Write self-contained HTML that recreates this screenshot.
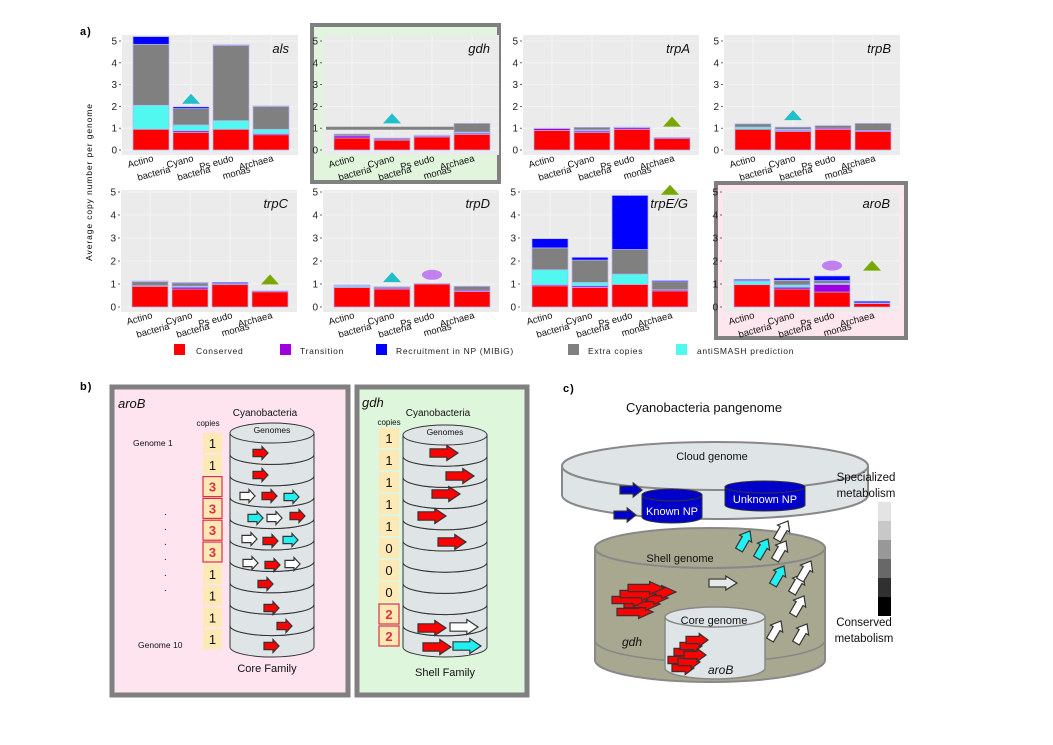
<!DOCTYPE html>
<html><head><meta charset="utf-8">
<style>
html,body{margin:0;padding:0;background:#fff;}
svg{display:block;font-family:"Liberation Sans",sans-serif;}
</style></head>
<body>
<svg id="fig" width="1053" height="745" viewBox="0 0 1053 745" xmlns="http://www.w3.org/2000/svg">
  <rect x="0" y="0" width="1053" height="745" fill="#fff"/>
  <text x="80" y="35" font-size="11" font-weight="bold" letter-spacing="1">a)</text>
  <text x="80" y="390" font-size="11" font-weight="bold" letter-spacing="1">b)</text>
  <text x="563" y="392" font-size="11" font-weight="bold" letter-spacing="1">c)</text>
  <rect x="312" y="25" width="187" height="157" fill="#e0f5dc" stroke="#808080" stroke-width="4"/>
  <rect x="716" y="183" width="190" height="155" fill="#fde6ee" stroke="#808080" stroke-width="4"/>
  <text transform="translate(92,182) rotate(-90)" text-anchor="middle" font-size="8.5" letter-spacing="0.9">Average copy number per genome</text>
  <g id="charts"></g>
  <g id="legend"></g>
  <g id="panelb"></g>
  <g id="panelc"></g>
</svg>
<script>
const NS="http://www.w3.org/2000/svg";
const categories=["Actino|bacteria","Cyano|bacteria","Ps eudo|monas","Archaea"];
const genes=["als","gdh","trpA","trpB","trpC","trpD","trpE/G","aroB"];
const conserved=[[0.95,0.8,0.95,0.7],[0.55,0.45,0.6,0.72],[0.9,0.8,0.95,0.52],[0.95,0.85,0.95,0.85],[0.9,0.78,0.97,0.66],[0.85,0.78,1.0,0.68],[0.92,0.85,0.98,0.7],[0.97,0.78,0.65,0.15]];
const transition=[[0,0.08,0,0.05],[0.1,0.05,0.05,0.05],[0.08,0.07,0.07,0.05],[0,0.05,0.05,0.05],[0,0.08,0,0.04],[0.03,0.05,0,0.05],[0.05,0.07,0,0.05],[0,0.08,0.33,0.03]];
const antismash=[[1.1,0.27,0.4,0.2],[0,0,0,0.05],[0,0.05,0,0],[0.1,0.05,0,0],[0.03,0.05,0,0],[0.05,0,0,0],[0.65,0.15,0.45,0],[0.15,0.1,0.05,0]];
const extra=[[2.8,0.75,3.45,1.05],[0.08,0.05,0.03,0.4],[0.02,0.12,0.03,0],[0.15,0.1,0.12,0.32],[0.17,0.14,0.05,0],[0.03,0.05,0,0.17],[0.95,0.97,1.07,0.35],[0.03,0.2,0.12,0]];
const recruitment=[[0.35,0.08,0.03,0.02],[0,0,0,0],[0,0,0,0],[0,0,0,0],[0.03,0.02,0.05,0],[0,0,0.02,0],[0.4,0.12,2.35,0.05],[0.05,0.1,0.2,0.07]];
const markerCat=[1,1,3,1,3,1,3,3];
const markerVal=[2.35,1.45,1.3,1.6,1.2,1.3,5.1,1.8];
const markerType=["cyan","cyan","green","cyan","green","cyan","green","green"];
const extraMarkerGene=[5,7];
const extraMarkerCat=[2,2];
const extraMarkerVal=[1.4,1.8];
const yTicks=[0,1,2,3,4,5];
const seriesNames=["Conserved","Transition","Recruitment in NP (MIBiG)","Extra copies","antiSMASH prediction"];
const seriesColors={cons:"#ff0000",trans:"#a000e0",anti:"#50f8f0",extra:"#808080",rec:"#0000ff"};

function el(tag,attrs,parent){const e=document.createElementNS(NS,tag);for(const k in attrs)e.setAttribute(k,attrs[k]);if(parent)parent.appendChild(e);return e;}

const charts=document.getElementById('charts');
const layout=[{x:133,y0:150,u:21.8,top:35,bot:155},{x:334,y0:150,u:21.8,top:35,bot:155},{x:534,y0:150,u:21.8,top:35,bot:155},{x:735,y0:150,u:21.8,top:35,bot:155},
{x:132,y0:307,u:23,top:190,bot:312},{x:334,y0:307,u:23,top:190,bot:312},{x:532,y0:307,u:23,top:190,bot:312},{x:734,y0:307,u:23,top:190,bot:312}];
const step=40,bw=36;
genes.forEach((g,gi)=>{
  const L=layout[gi];
  const yS=v=>L.y0-v*L.u;
  const xS=i=>L.x+i*step;
  const grp=el('g',{},charts);
  
  
  const bg=el('rect',{x:L.x-11,y:L.top,width:176,height:L.bot-L.top,fill:"#ebebeb"},grp);
  
  
  yTicks.forEach(t=>{
    el('line',{x1:L.x-11,x2:L.x+165,y1:yS(t),y2:yS(t),stroke:"#f6f6f6","stroke-width":0.8},grp);
    const tl=el('text',{x:L.x-16,y:yS(t)+3.5,"font-size":10,"text-anchor":"end",fill:"#222"},grp);
    tl.textContent=t;
    
    
    el('line',{x1:L.x-14,x2:L.x-12,y1:yS(t),y2:yS(t),stroke:"#444","stroke-width":0.8},grp);
  });
  categories.forEach((c,ci)=>{
    el('line',{x1:xS(ci)+bw/2,x2:xS(ci)+bw/2,y1:L.top,y2:L.bot,stroke:"#f6f6f6","stroke-width":0.8},grp);
  });
  if(g==="gdh"){
    const ln=el('line',{x1:L.x-8,x2:xS(3),y1:yS(1),y2:yS(1),stroke:"#808080","stroke-width":3},grp);
    
    
  }
  categories.forEach((c,ci)=>{
    const segs=[[conserved[gi][ci],seriesColors.cons,'conserved'],[transition[gi][ci],seriesColors.trans,'transition'],[antismash[gi][ci],seriesColors.anti,'antismash'],[extra[gi][ci],seriesColors.extra,'extra-copies'],[recruitment[gi][ci],seriesColors.rec,'recruitment']];
    let acc=0;
    segs.forEach(s=>{
      if(s[0]<=0)return;
      const r=el('rect',{x:xS(ci),y:yS(acc+s[0]),width:bw,height:s[0]*L.u,fill:s[1],stroke:"#b4b4f4","stroke-width":0.7},grp);
      
      
      acc+=s[0];
    });
    const parts=c.split('|');
    const cx=xS(ci)+bw/2;
    const t1=el('text',{transform:`translate(${cx+3},${L.y0+11}) rotate(-15)`,"font-size":9.5,"text-anchor":"end",fill:"#111"},grp);
    t1.textContent=parts[0];
    
    
    if(parts[1]){
      const t2=el('text',{transform:`translate(${cx+20},${L.y0+22}) rotate(-15)`,"font-size":9.5,"text-anchor":"end",fill:"#111"},grp);
      t2.textContent=parts[1];
      
      
    }
  });
  const title=el('text',{x:L.x+156,y:L.top+18,"font-size":13,"font-style":"italic","text-anchor":"end",fill:"#111"},grp);
  title.textContent=g;
  
  
  const mx=xS(markerCat[gi])+bw/2, my=yS(markerVal[gi]);
  const col=markerType[gi]==="cyan"?"#20c0c8":"#78a800";
  const m=el('polygon',{points:`${mx-9},${my+5} ${mx},${my-5} ${mx+9},${my+5}`,fill:col},grp);
  
  
});
extraMarkerGene.forEach((gi,k)=>{
  const L=layout[gi];
  const mx=L.x+extraMarkerCat[k]*step+bw/2, my=L.y0-extraMarkerVal[k]*L.u;
  const e=el('ellipse',{cx:mx,cy:my,rx:10,ry:5,fill:"#c080f0"},charts);
  
  
});
const leg=document.getElementById('legend');
const legX=[174,280,376,568,676];
const legTextX=[196,300,396,588,697];
const legCols=[seriesColors.cons,seriesColors.trans,seriesColors.rec,seriesColors.extra,seriesColors.anti];
seriesNames.forEach((n,i)=>{
  const r=el('rect',{x:legX[i],y:344,width:11,height:11,fill:legCols[i]},leg);
  
  
  const t=el('text',{x:legTextX[i],y:354,"font-size":8.5,"letter-spacing":0.7,fill:"#222"},leg);
  t.textContent=n;
  
  
});

const pb=document.getElementById('panelb');
function arrow(parent,x,y,w,h,fill,stroke,rot){
  const hw=h*0.28, hl=w*0.4;
  const pts=`0,${-hw} ${w-hl},${-hw} ${w-hl},${-h/2} ${w},0 ${w-hl},${h/2} ${w-hl},${hw} 0,${hw}`;
  const p=el('polygon',{points:pts,fill:fill,stroke:stroke,"stroke-width":1.2,transform:`translate(${x},${y}) rotate(${rot||0})`},parent);
  
  
  return p;
}
function txt(parent,x,y,s,size,opts,name){
  const t=el('text',Object.assign({x:x,y:y,"font-size":size,fill:"#111"},opts||{}),parent);
  t.textContent=s;
  
  
  return t;
}
function stack(parent,cx,top,rx,ry,n,h){
  for(let i=n-1;i>=0;i--){
    const y=top+i*h;
    el('path',{d:`M${cx-rx},${y} L${cx-rx},${y+h} A${rx},${ry} 0 0 0 ${cx+rx},${y+h} L${cx+rx},${y} Z`,fill:"#dfe4e6",stroke:"#333","stroke-width":1},parent);
    el('ellipse',{cx:cx,cy:y,rx:rx,ry:ry,fill:"#dfe4e6",stroke:"#333","stroke-width":1},parent);
  }
}
let r=el('rect',{x:112,y:387,width:236,height:308,fill:"#fde4ee",stroke:"#808080","stroke-width":5},pb);


r=el('rect',{x:357,y:387,width:170,height:308,fill:"#def6dc",stroke:"#808080","stroke-width":5},pb);


txt(pb,118,408,"aroB",13,{"font-style":"italic"},'arob-title');
txt(pb,362,407,"gdh",13,{"font-style":"italic"},'gdh-title');
txt(pb,265,416,"Cyanobacteria",10,{"text-anchor":"middle"},'cyanobacteria-label');
txt(pb,438,416,"Cyanobacteria",10,{"text-anchor":"middle"},'cyanobacteria-label');
txt(pb,208,426,"copies",8,{"text-anchor":"middle"},'copies-label');
txt(pb,389,425,"copies",8,{"text-anchor":"middle"},'copies-label');
const sa=el('g',{},pb);  
stack(sa,272,433,42,10,10,21.4);
const sg=el('g',{},pb);  
stack(sg,445,435,42,10,10,21.2);
txt(pb,272,433,"Genomes",8.5,{"text-anchor":"middle"},'genomes-label');
txt(pb,445,435,"Genomes",8.5,{"text-anchor":"middle"},'genomes-label');
const arobCopies=[1,1,3,3,3,3,1,1,1,1];
const gdhCopies=[1,1,1,1,1,0,0,0,2,2];
arobCopies.forEach((c,i)=>{
  const y=433+i*21.8;
  const hl=c>1;
  const b=el('rect',{x:203,y:y,width:19,height:20,fill:"#fde9b6",stroke:hl?"#e03040":"none","stroke-width":1.2},pb);
  
  
  txt(pb,212.5,y+15,String(c),13,{"text-anchor":"middle",fill:hl?"#e03040":"#111","font-weight":hl?"bold":"normal"},'copy-count');
});
gdhCopies.forEach((c,i)=>{
  const y=428+i*22;
  const hl=c>1;
  const b=el('rect',{x:379,y:y,width:20,height:20,fill:"#fde9b6",stroke:hl?"#e03040":"none","stroke-width":1.2},pb);
  
  
  txt(pb,389,y+15,String(c),13,{"text-anchor":"middle",fill:hl?"#e03040":"#111","font-weight":hl?"bold":"normal"},'copy-count');
});
txt(pb,133,446,"Genome 1",8.5,{},'genome-1-label');
txt(pb,138,648,"Genome 10",8.5,{},'genome-10-label');
[515,530,545,560,576,591].forEach(y=>txt(pb,164,y,".",10,{},'ellipsis-dot'));
txt(pb,267,672,"Core Family",11,{"text-anchor":"middle"},'core-family-label');
txt(pb,445,676,"Shell Family",11,{"text-anchor":"middle"},'shell-family-label');
const R="#ff0000",W="#ffffff",C="#20f0f0",K="#333";
[[253,453,R],[253,475,R],[240,496,W],[262,496,R],[284,497,C],[248,518,C],[267,518,W],[290,516,R],[242,539,W],[263,541,R],[283,540,C],[243,563,W],[265,565,R],[285,564,W],[258,584,R],[264,608,R],[277,626,R],[264,646,R]].forEach(a=>arrow(pb,a[0],a[1],15,13,a[2],K));
[[430,453,R],[446,476,R],[432,494,R],[418,516,R],[438,542,R],[418,628,R],[450,627,W],[423,647,R],[453,646,C]].forEach(a=>arrow(pb,a[0],a[1],28,15,a[2],K));

const pc=document.getElementById('panelc');
txt(pc,704,412,"Cyanobacteria pangenome",13,{"text-anchor":"middle"},'pangenome-title');
let sh=el('path',{d:"M595,548 L595,660 A115,22 0 0 0 825,660 L825,548 Z",fill:"#a8a890",stroke:"#888","stroke-width":2},pc);
 
el('ellipse',{cx:710,cy:548,rx:115,ry:20,fill:"#a8a890",stroke:"#888","stroke-width":2},pc);
el('path',{d:"M595,640 A115,22 0 0 0 825,640",fill:"none",stroke:"#888","stroke-width":1.5},pc);
txt(pc,680,562,"Shell genome",11,{"text-anchor":"middle"},'shell-genome-label');
let co=el('path',{d:"M665,617 L665,668 A50,11 0 0 0 765,668 L765,617 Z",fill:"#dfe4e6",stroke:"#888","stroke-width":1.5},pc);
 
el('ellipse',{cx:715,cy:617,rx:50,ry:10,fill:"#dfe4e6",stroke:"#888","stroke-width":1.5},pc);
txt(pc,714,624,"Core genome",11,{"text-anchor":"middle"},'core-genome-label');
txt(pc,708,674,"aroB",12,{"font-style":"italic"},'arob-label');
txt(pc,622,646,"gdh",12,{"font-style":"italic"},'gdh-label');
let cl=el('path',{d:"M562,468 L562,495 A153,24 0 0 0 868,495 L868,468 Z",fill:"#dfe4e6",stroke:"#888","stroke-width":2},pc);
 
el('ellipse',{cx:715,cy:466,rx:153,ry:24,fill:"#dfe4e6",stroke:"#888","stroke-width":2},pc);
txt(pc,712,460,"Cloud genome",11,{"text-anchor":"middle"},'cloud-genome-label');
function npcyl(cx,top,rx,h,label,name){
  const g=el('g',{},pc);  
  el('path',{d:`M${cx-rx},${top} L${cx-rx},${top+h} A${rx},6 0 0 0 ${cx+rx},${top+h} L${cx+rx},${top} Z`,fill:"#0000c8",stroke:"#333","stroke-width":1},g);
  el('ellipse',{cx:cx,cy:top,rx:rx,ry:6,fill:"#0000c8",stroke:"#333","stroke-width":1},g);
  txt(g,cx,top+h-2,label,11,{"text-anchor":"middle",fill:"#fff"},'np-label');
}
npcyl(672,495,30,22,"Known NP",'known-np-cylinder');
npcyl(765,487,40,18,"Unknown NP",'unknown-np-cylinder');
arrow(pc,620,490,22,14,"#0000c8",K);
arrow(pc,614,515,22,14,"#0000c8",K);
[[739,550,C],[757,558,C],[775,560,W],[777,540,W],[773,585,C],[792,593,W],[793,615,W],[770,640,W],[796,643,W],[800,580,W]].forEach(a=>arrow(pc,a[0],a[1],22,14,a[2],K,-60));
arrow(pc,709,583,28,14,"#e6e8ea",K);
[[617,612],[624,604],[632,598],[640,592],[612,600],[620,594],[628,588]].forEach(a=>arrow(pc,a[0],a[1],36,13,R,K));
[[668,660],[674,652],[680,646],[686,640],[672,668],[678,662],[684,655]].forEach(a=>arrow(pc,a[0],a[1],22,13,R,K));
const gs=["#e4e4e4","#c8c8c8","#989898","#686868","#303030","#000000"];
gs.forEach((c,i)=>{const q=el('rect',{x:878,y:502+i*19,width:13,height:19,fill:c},pc);});
txt(pc,866,481,"Specialized",11.5,{"text-anchor":"middle"},'specialized-label');
txt(pc,866,497,"metabolism",11.5,{"text-anchor":"middle"},'specialized-label');
txt(pc,864,626,"Conserved",11.5,{"text-anchor":"middle"},'conserved-label');
txt(pc,864,642,"metabolism",11.5,{"text-anchor":"middle"},'conserved-label');
</script>
</body></html>
